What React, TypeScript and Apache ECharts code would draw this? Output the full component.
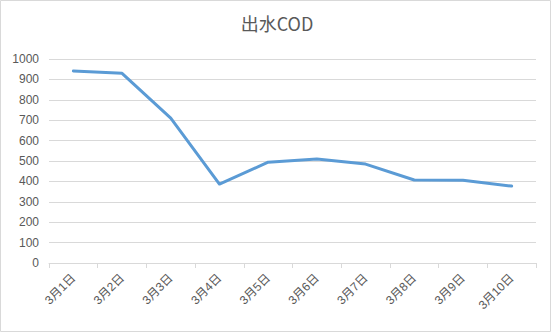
import React, { useEffect, useRef } from "react";
import * as echarts from "echarts";

const categories = ["3月1日", "3月2日", "3月3日", "3月4日", "3月5日", "3月6日", "3月7日", "3月8日", "3月9日", "3月10日"];
const codValues = [941, 930, 710, 387, 494, 510, 485, 407, 406, 377];
const yTicks = { min: 0, max: 1000, interval: 100 };

const FONT = "'Liberation Sans', 'Noto Sans CJK SC', sans-serif";

export default function App() {
  const ref = useRef<HTMLDivElement>(null);
  useEffect(() => {
    if (!ref.current) return;
    const chart = echarts.init(ref.current, null, { renderer: "svg" });
    chart.setOption({
      animation: false,
      backgroundColor: "#ffffff",
      title: {
        text: "出水COD",
        left: "center",
        top: 9,
        textStyle: { fontFamily: "'Noto Sans CJK SC', sans-serif", fontSize: 18, fontWeight: "normal", color: "#595959" },
      },
      graphic: [
        {
          type: "rect",
          shape: { x: 0.5, y: 0.5, width: 550, height: 331 },
          style: { fill: "none", stroke: "#d9d9d9", lineWidth: 1 },
          silent: true,
        },
      ],
      grid: { left: 49, right: 18, top: 59, bottom: 70, containLabel: false },
      xAxis: {
        type: "category",
        data: categories,
        boundaryGap: true,
        axisLine: { show: true, lineStyle: { color: "#d9d9d9", width: 1 } },
        axisTick: { show: true, length: 5, lineStyle: { color: "#d9d9d9" } },
        axisLabel: {
          rotate: 45,
          interval: 0,
          margin: 13,
          fontFamily: FONT,
          fontSize: 12,
          color: "#595959",
        },
        splitLine: { show: false },
      },
      yAxis: {
        type: "value",
        min: yTicks.min,
        max: yTicks.max,
        interval: yTicks.interval,
        axisLine: { show: false },
        axisTick: { show: false },
        axisLabel: {
          margin: 10,
          fontFamily: FONT,
          fontSize: 12,
          color: "#595959",
          formatter: (v: number) => String(v),
        },
        splitLine: { show: true, lineStyle: { color: "#d9d9d9", width: 1 } },
      },
      series: [
        {
          type: "line",
          data: codValues,
          symbol: "none",
          lineStyle: { color: "#5b9bd5", width: 3, cap: "round", join: "round" },
          itemStyle: { color: "#5b9bd5" },
        },
      ],
    });
    return () => chart.dispose();
  }, []);
  return (
    <div
      ref={ref}
      style={{ position: "fixed", left: 0, top: 0, width: 554, height: 333 }}
    />
  );
}
